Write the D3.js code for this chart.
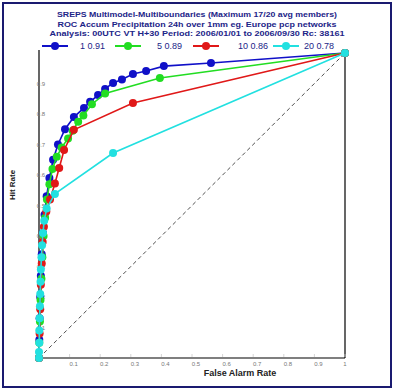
<!DOCTYPE html>
<html>
<head>
<meta charset="utf-8">
<script src="https://cdn.jsdelivr.net/npm/d3@7"></script>
<style>
  body { margin: 0; background: #fff; }
  text { font-family: "Liberation Sans", Arial, sans-serif; }
</style>
</head>
<body>
<div id="chart"></div>
<script>
// title lines
const titles = [
  "SREPS Multimodel-Multiboundaries   (Maximum 17/20 avg members)",
  "ROC  Accum Precipitation 24h  over 1mm   eg. Europe pcp networks",
  "Analysis: 00UTC  VT H+30   Period: 2006/01/01 to 2006/09/30   Rc: 38161"
];

// legend labels (threshold + ROC area)
const seriesNames = ["1 0.91", "5 0.89", "10 0.86", "20 0.78"];
const seriesColors = ["#1010c8", "#22dd22", "#e01818", "#22e0e0"];

// ROC points [false alarm rate, hit rate]
const blue = [[0,0],[0.001,0.06],[0.002,0.13],[0.004,0.2],[0.006,0.27],[0.009,0.34],[0.013,0.41],
  [0.018,0.47],[0.025,0.53],[0.034,0.59],[0.046,0.65],[0.062,0.70],[0.085,0.75],[0.114,0.79],
  [0.147,0.82],[0.167,0.84],[0.193,0.862],[0.216,0.882],[0.242,0.902],[0.271,0.913],
  [0.307,0.931],[0.35,0.941],[0.408,0.957],[0.562,0.967],[1,1]];
const green = [[0,0],[0.001,0.05],[0.003,0.12],[0.005,0.19],[0.008,0.26],[0.011,0.33],[0.015,0.40],
  [0.02,0.46],[0.026,0.52],[0.034,0.57],[0.044,0.62],[0.058,0.66],[0.074,0.69],[0.095,0.72],
  [0.11,0.745],[0.128,0.775],[0.145,0.795],[0.173,0.832],[0.216,0.867],[0.395,0.918],[1,1]];
const red = [[0,0],[0.002,0.08],[0.004,0.16],[0.006,0.24],[0.009,0.31],[0.012,0.38],[0.016,0.43],
  [0.024,0.48],[0.036,0.52],[0.052,0.572],[0.066,0.623],[0.082,0.682],[0.114,0.748],
  [0.307,0.836],[1,1]];
const cyan = [[0,0],[0,0.02],[0.001,0.05],[0.001,0.09],[0.002,0.13],[0.003,0.17],[0.004,0.21],
  [0.005,0.25],[0.006,0.29],[0.008,0.33],[0.01,0.37],[0.013,0.41],[0.017,0.45],[0.025,0.49],
  [0.052,0.538],[0.242,0.672],[1,1]];
const series = [blue, green, red, cyan];

const tickVals = [0.1,0.2,0.3,0.4,0.5,0.6,0.7,0.8,0.9];

const W = 395, H = 390;
const navy = "#1c2488";

const svg = d3.select("#chart").append("svg")
  .attr("width", W).attr("height", H);

// outer frame
svg.append("rect")
  .attr("x", 3).attr("y", 3).attr("width", 388).attr("height", 384)
  .attr("fill", "#fff").attr("stroke", "#1a1a70").attr("stroke-width", 2);

const x = d3.scaleLinear().domain([0, 1]).range([39, 345]);
const y = d3.scaleLinear().domain([0, 1]).range([358, 53]);

// titles
const titleY = [17, 27, 36];
const titleW = [280, 279, 295];
titles.forEach((t, i) => {
  svg.append("text")
    .attr("x", 197).attr("y", titleY[i])
    .attr("text-anchor", "middle")
    .attr("font-size", 8).attr("font-weight", "bold")
    .attr("fill", navy)
    .attr("textLength", titleW[i]).attr("lengthAdjust", "spacingAndGlyphs")
    .text(t);
});

// legend
const legX = [42, 115, 193, 273];
const legTextX = [80, 157, 238, 304];
seriesNames.forEach((n, i) => {
  const g = svg.append("g");
  g.append("line")
    .attr("x1", legX[i]).attr("x2", legX[i] + 26)
    .attr("y1", 46).attr("y2", 46)
    .attr("stroke", seriesColors[i]).attr("stroke-width", 2);
  g.append("circle")
    .attr("cx", legX[i] + 13).attr("cy", 46).attr("r", 4)
    .attr("fill", seriesColors[i]);
  g.append("text")
    .attr("x", legTextX[i]).attr("y", 49)
    .attr("font-size", 9).attr("fill", navy)
    .text(n);
});

// axes
const axisG = svg.append("g");
axisG.append("line")
  .attr("x1", x(0)).attr("x2", x(0)).attr("y1", y(0)).attr("y2", 50)
  .attr("stroke", "#000").attr("stroke-width", 1.2);
axisG.append("line")
  .attr("x1", x(0)).attr("x2", x(1)).attr("y1", y(0)).attr("y2", y(0))
  .attr("stroke", "#000").attr("stroke-width", 1.2);
axisG.append("line")
  .attr("x1", x(1)).attr("x2", x(1)).attr("y1", y(0)).attr("y2", y(1))
  .attr("stroke", "#000").attr("stroke-width", 1.2);

// x ticks
tickVals.concat([1]).forEach(v => {
  axisG.append("line")
    .attr("x1", x(v)).attr("x2", x(v)).attr("y1", y(0) - 4).attr("y2", y(0) - 1)
    .attr("stroke", "#ccc").attr("stroke-width", 0.8);
  axisG.append("text")
    .attr("x", x(v) + (v === 1 ? 0 : 4)).attr("y", 366)
    .attr("text-anchor", "middle")
    .attr("font-size", 6).attr("fill", "#777")
    .text(v === 1 ? "1" : d3.format(".1f")(v));
});

// y ticks
tickVals.forEach(v => {
  axisG.append("text")
    .attr("x", 41).attr("y", y(v) + 2)
    .attr("text-anchor", "middle")
    .attr("font-size", 6).attr("fill", "#777")
    .text(d3.format(".1f")(v));
});

// axis titles
svg.append("text")
  .attr("transform", "translate(15,185) rotate(-90)")
  .attr("text-anchor", "middle")
  .attr("font-size", 8).attr("font-weight", "bold")
  .attr("fill", "#222")
  .text("Hit Rate");
svg.append("text")
  .attr("x", 240).attr("y", 376)
  .attr("text-anchor", "middle")
  .attr("font-size", 9).attr("font-weight", "bold")
  .attr("fill", "#222")
  .text("False Alarm Rate");

// diagonal
svg.append("line")
  .attr("x1", x(0)).attr("y1", y(0)).attr("x2", x(1)).attr("y2", y(1))
  .attr("stroke", "#222").attr("stroke-width", 0.8)
  .attr("stroke-dasharray", "4,3");

// ROC curves
const line = d3.line().x(d => x(d[0])).y(d => y(d[1]));
series.forEach((s, i) => {
  const g = svg.append("g");
  g.append("path")
    .datum(s)
    .attr("d", line)
    .attr("fill", "none")
    .attr("stroke", seriesColors[i])
    .attr("stroke-width", 1.6);
  g.selectAll("circle")
    .data(s)
    .enter().append("circle")
    .attr("cx", d => x(d[0]))
    .attr("cy", d => y(d[1]))
    .attr("r", 4)
    .attr("fill", seriesColors[i]);
});
</script>
</body>
</html>
